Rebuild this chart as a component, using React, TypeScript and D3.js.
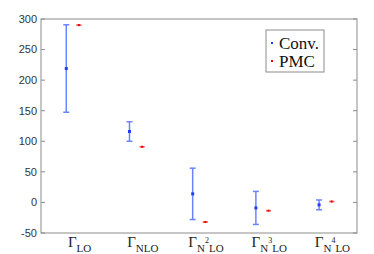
import { useEffect, useRef } from 'react';
import * as d3 from 'd3';

// orders: Γ_LO ... Γ_N4LO  (sup = power on N, '' for none)
const orderPrefix = ['', 'N', 'N', 'N', 'N'];
const orderSup = ['', '', '2', '3', '4'];
const convValues = [219, 116, 14, -9, -4];
const convErrors = [71.5, 16, 42, 27, 8];
const pmcValues = [290, 91, -32, -13.5, 1.5];
const pmcErrors = [0.5, 0.5, 0.5, 0.5, 0.5];
const yTicks = [-50, 0, 50, 100, 150, 200, 250, 300];
const legendLabels = ['Conv.', 'PMC'];

const W = 374;
const H = 254;
const margin = { top: 19, right: 17, bottom: 21, left: 41 };

const App = () => {
  const svgRef = useRef<SVGSVGElement>(null);

  useEffect(() => {
    const svg = d3.select(svgRef.current);
    svg.selectAll('*').remove();

    const x = d3.scaleLinear()
      .domain([0.5, 5.5])
      .range([margin.left, W - margin.right]);
    const y = d3.scaleLinear()
      .domain([-50, 300])
      .range([H - margin.bottom, margin.top]);

    const axisColor = '#8c8c8c';
    const x0 = x(0.5), x1 = x(5.5), y0 = y(-50), y1 = y(300);

    // box
    svg.append('rect')
      .attr('x', x0).attr('y', y1)
      .attr('width', x1 - x0).attr('height', y0 - y1)
      .attr('fill', 'none')
      .attr('stroke', axisColor)
      .attr('stroke-width', 1);

    // y ticks, inside on both sides
    const tk = svg.append('g');
    yTicks.forEach(t => {
      tk.append('line')
        .attr('x1', x0).attr('x2', x0 + 4)
        .attr('y1', y(t)).attr('y2', y(t))
        .attr('stroke', axisColor);
      tk.append('line')
        .attr('x1', x1).attr('x2', x1 - 4)
        .attr('y1', y(t)).attr('y2', y(t))
        .attr('stroke', axisColor);
      tk.append('text')
        .attr('x', x0 - 4)
        .attr('y', y(t))
        .attr('dy', '0.35em')
        .attr('text-anchor', 'end')
        .attr('font-family', '"Liberation Sans", Arial, sans-serif')
        .attr('font-size', 11)
        .attr('fill', '#333')
        .text(t);
    });

    // x tick labels
    const lab = svg.append('g')
      .attr('font-family', '"Liberation Serif", "Times New Roman", serif')
      .attr('fill', '#222');
    orderPrefix.forEach((p, i) => {
      const t = lab.append('text')
        .attr('x', x(i + 1) + 7)
        .attr('y', y0 + 14)
        .attr('text-anchor', 'middle')
        .attr('font-size', 15);
      t.append('tspan').text('Γ');
      if (p) {
        t.append('tspan').attr('font-size', 11).attr('dy', 5).text(p);
      }
      if (orderSup[i]) {
        t.append('tspan').attr('font-size', 8).attr('dy', -9).text(orderSup[i]);
        t.append('tspan').attr('font-size', 11).attr('dy', 9).text('LO');
      } else {
        t.append('tspan').attr('font-size', 11).attr('dy', p ? 0 : 5).text('LO');
      }
    });

    const drawSeries = (vals: number[], errs: number[], off: number, color: string, cw: number, sw: number, mcolor: string, ms: number) => {
      const g = svg.append('g');
      vals.forEach((v, i) => {
        const cx = x(i + 1 + off);
        const lo = y(v - errs[i]);
        const hi = y(v + errs[i]);
        g.append('line')
          .attr('x1', cx).attr('x2', cx)
          .attr('y1', lo).attr('y2', hi)
          .attr('stroke', color).attr('stroke-width', sw);
        [lo, hi].forEach(yy => {
          g.append('line')
            .attr('x1', cx - cw / 2).attr('x2', cx + cw / 2)
            .attr('y1', yy).attr('y2', yy)
            .attr('stroke', color).attr('stroke-width', sw);
        });
        g.append('rect')
          .attr('x', cx - ms / 2).attr('y', y(v) - ms / 2)
          .attr('width', ms).attr('height', ms)
          .attr('fill', mcolor);
      });
    };

    drawSeries(convValues, convErrors, -0.1, '#6a84ff', 6, 1.5, '#1f3dff', 3);
    drawSeries(pmcValues, pmcErrors, 0.1, '#ff5050', 5, 1, '#ee0000', 2);

    // legend
    const lg = svg.append('g');
    lg.append('rect')
      .attr('x', 266).attr('y', 30)
      .attr('width', 58).attr('height', 42)
      .attr('fill', 'white')
      .attr('stroke', '#8c8c8c');
    legendLabels.forEach((l, i) => {
      const ly = 43 + i * 18;
      lg.append('rect')
        .attr('x', 271).attr('y', ly - 1)
        .attr('width', 2).attr('height', 2)
        .attr('fill', i === 0 ? '#1f3dff' : '#ee0000');
      lg.append('text')
        .attr('x', 279).attr('y', ly)
        .attr('dy', '0.35em')
        .attr('font-family', '"Liberation Serif", "Times New Roman", serif')
        .attr('font-size', 17)
        .attr('fill', '#111')
        .text(l);
    });
  }, []);

  return (
    <svg ref={svgRef} width={W} height={H} style={{ position: 'absolute', left: 0, top: 0 }} />
  );
};

export default App;
